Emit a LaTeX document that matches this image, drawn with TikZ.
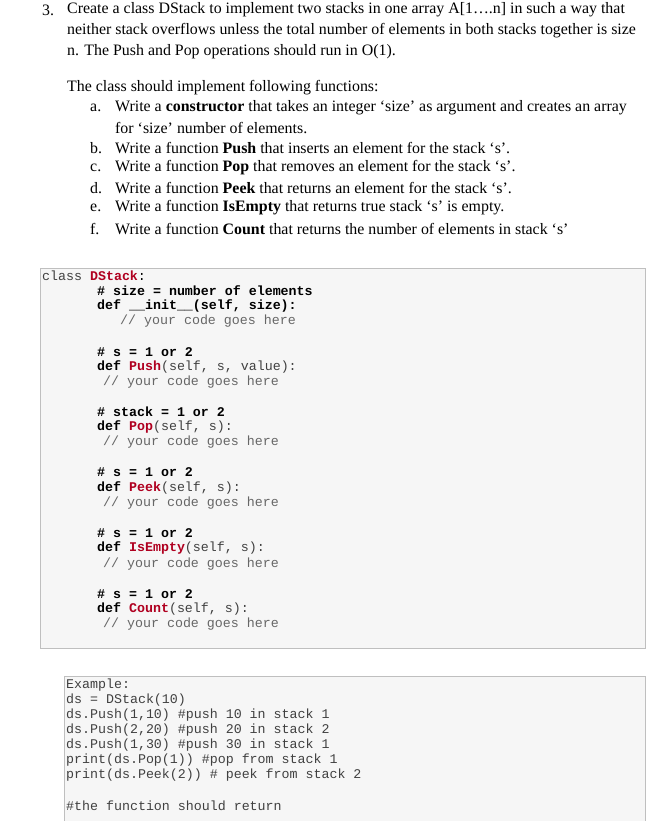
\documentclass[tikz,border=0pt]{standalone}
\usepackage{fontspec}
\setmainfont{Liberation Serif}
\setmonofont{Liberation Mono}
\begin{document}
\begin{tikzpicture}[x=1pt,y=-1pt,
  tx/.style={anchor=west,inner sep=0pt,font=\fontsize{15.9}{18}\selectfont},
  cd/.style={anchor=west,inner sep=0pt,font=\ttfamily\fontsize{13.3}{15}\selectfont,text=black!75},
  box/.style={draw=black!25,fill=black!3.5,line width=0.8pt}]
\useasboundingbox (0,0) rectangle (655,821);
\definecolor{kw}{HTML}{B00020}
\newcommand{\cm}[1]{\textcolor{black!60}{#1}}
% text
\node[tx] (n3) at (42,10) {3.};
\node[tx] (l1) at (67,10) {Create a class DStack to implement two stacks in one array A[1\ldots.n] in such a way that};
\node[tx] (l2) at (67,31) {neither stack overflows unless the total number of elements in both stacks together is size};
\node[tx] (l3) at (67,52) {n. The Push and Pop operations should run in O(1).};
\node[tx] (l4) at (67,88) {The class should implement following functions:};
\node[tx] (la) at (90,108) {a.};
\node[tx] (ta) at (115,108) {Write a \textbf{constructor} that takes an integer ‘size’ as argument and creates an array};
\node[tx] (ta2) at (115,128) {for ‘size’ number of elements.};
\node[tx] (lb) at (90,148) {b.};
\node[tx] (tb) at (115,148) {Write a function \textbf{Push} that inserts an element for the stack ‘s’.};
\node[tx] (lc) at (90,168) {c.};
\node[tx] (tc) at (115,168) {Write a function \textbf{Pop} that removes an element for the stack ‘s’.};
\node[tx] (ld) at (90,188) {d.};
\node[tx] (td) at (115,188) {Write a function \textbf{Peek} that returns an element for the stack ‘s’.};
\node[tx] (le) at (90,208) {e.};
\node[tx] (te) at (115,208) {Write a function \textbf{IsEmpty} that returns true stack ‘s’ is empty.};
\node[tx] (lf) at (90,229) {f.};
\node[tx] (tf) at (115,229) {Write a function \textbf{Count} that returns the number of elements in stack ‘s’};
% code box
\draw[box] (40,268) rectangle (645,648);
\node[cd] (c0) at (42,276) {class \textbf{\textcolor{kw}{DStack}}\textcolor{black}{:}};
\node[cd,text=black] (c1) at (97,291) {\textbf{\# size = number of elements}};
\node[cd,text=black] (c2) at (97,306) {\textbf{def \_\_init\_\_(self, size):}};
\node[cd] (c3) at (120,321) {\cm{// your code goes here}};
\node[cd,text=black] (c4) at (97,352) {\textbf{\# s = 1 or 2}};
\node[cd] (c5) at (97,367) {\textbf{\textcolor{black}{def} \textcolor{kw}{Push}}(self, s, value):};
\node[cd] (c6) at (103,382) {\cm{// your code goes here}};
\node[cd,text=black] (c7) at (97,412) {\textbf{\# stack = 1 or 2}};
\node[cd] (c8) at (97,427) {\textbf{\textcolor{black}{def} \textcolor{kw}{Pop}}(self, s):};
\node[cd] (c9) at (103,442) {\cm{// your code goes here}};
\node[cd,text=black] (c10) at (97,472) {\textbf{\# s = 1 or 2}};
\node[cd] (c11) at (97,488) {\textbf{\textcolor{black}{def} \textcolor{kw}{Peek}}(self, s):};
\node[cd] (c12) at (103,503) {\cm{// your code goes here}};
\node[cd,text=black] (c13) at (97,533) {\textbf{\# s = 1 or 2}};
\node[cd] (c14) at (97,548) {\textbf{\textcolor{black}{def} \textcolor{kw}{IsEmpty}}(self, s):};
\node[cd] (c15) at (103,564) {\cm{// your code goes here}};
\node[cd,text=black] (c16) at (97,594) {\textbf{\# s = 1 or 2}};
\node[cd] (c17) at (97,609) {\textbf{\textcolor{black}{def} \textcolor{kw}{Count}}(self, s):};
\node[cd] (c18) at (103,624) {\cm{// your code goes here}};
% example box
\draw[box] (64,830) -- (64,676) -- (645,676) -- (645,830);
\node[cd] (e0) at (66,685) {Example:};
\node[cd] (e1) at (66,700) {ds = DStack(10)};
\node[cd] (e2) at (66,715) {ds.Push(1,10) \#push 10 in stack 1};
\node[cd] (e3) at (66,730) {ds.Push(2,20) \#push 20 in stack 2};
\node[cd] (e4) at (66,745) {ds.Push(1,30) \#push 30 in stack 1};
\node[cd] (e5) at (66,760) {print(ds.Pop(1)) \#pop from stack 1};
\node[cd] (e6) at (66,775) {print(ds.Peek(2)) \# peek from stack 2};
\node[cd] (e7) at (66,806) {\#the function should return};
\end{tikzpicture}
\end{document}
